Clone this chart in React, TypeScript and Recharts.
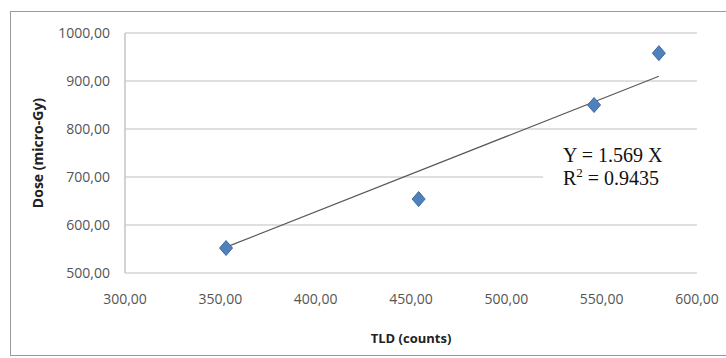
import { ScatterChart, Scatter, XAxis, YAxis, CartesianGrid } from 'recharts'

// TLD readings (counts) against measured dose (micro-Gy)
const tldCounts = [353, 454, 546, 580]
const doseMicroGy = [552, 654, 850, 958]

const xTicks = [300, 350, 400, 450, 500, 550, 600]
const yTicks = [500, 600, 700, 800, 900, 1000]

// fitted trendline through origin, Y = 1.569 X
const slope = 1.569
const fitRange = [353, 580]

const points = tldCounts.map((x, i) => ({ x, y: doseMicroGy[i] }))
const trend = fitRange.map(x => ({ x, y: slope * x }))

const fmt = (v: number) => v.toFixed(2).replace('.', ',')

const TICK = { fontSize: 14, fill: '#555555', fontFamily: 'Open Sans' }

function Diamond(props: any) {
  const { cx, cy } = props
  if (cx == null || cy == null) return null
  const w = 6.5
  const h = 7.5
  return (
    <polygon
      points={`${cx},${cy - h} ${cx + w},${cy} ${cx},${cy + h} ${cx - w},${cy}`}
      fill="#4F81BD"
      stroke="#41699C"
      strokeWidth={1}
    />
  )
}

export default function App() {
  return (
    <div style={{ position: 'absolute', left: 0, top: 0, width: 726, height: 358, background: '#fff' }}>
      <div
        style={{
          position: 'absolute',
          left: 10,
          top: 11,
          width: 716,
          height: 343,
          borderLeft: '1px solid #9a9a9a',
          borderTop: '1px solid #9a9a9a',
          borderBottom: '1px solid #9a9a9a',
        }}
      />
      <ScatterChart
        width={726}
        height={358}
        margin={{ top: 33, right: 29, bottom: 10, left: 10 }}
        style={{ position: 'absolute', left: 0, top: 0 }}
      >
        <CartesianGrid vertical={false} stroke="#d4d4d4" strokeWidth={1.5} />
        <XAxis
          type="number"
          dataKey="x"
          domain={[300, 600]}
          ticks={xTicks}
          tickFormatter={fmt}
          tick={TICK}
          tickLine={false}
          axisLine={false}
          tickSize={8}
          tickMargin={13}
          height={75}
          label={{
            value: 'TLD (counts)',
            position: 'insideBottom',
            offset: 5,
            style: { fontSize: 13, fontWeight: 700, fill: '#222', fontFamily: 'Open Sans' },
          }}
        />
        <YAxis
          type="number"
          dataKey="y"
          domain={[500, 1000]}
          ticks={yTicks}
          tickFormatter={fmt}
          tick={TICK}
          tickLine={false}
          axisLine={{ stroke: '#c4c4c4', strokeWidth: 1.5 }}
          tickSize={8}
          tickMargin={7}
          width={115}
          label={{
            value: 'Dose (micro-Gy)',
            angle: -90,
            position: 'insideLeft',
            offset: 28,
            style: { textAnchor: 'middle', fontSize: 14, fontWeight: 700, fill: '#222', fontFamily: 'Open Sans' },
          }}
        />
        <Scatter
          data={trend}
          line={{ stroke: '#5a5a5a', strokeWidth: 1.2 }}
          shape={() => <g />}
          isAnimationActive={false}
        />
        <Scatter data={points} shape={<Diamond />} isAnimationActive={false} />
      </ScatterChart>
      <div
        style={{
          position: 'absolute',
          left: 543,
          top: 138,
          width: 154,
          height: 60,
          background: '#fff',
          boxSizing: 'border-box',
          paddingTop: 6,
          paddingLeft: 20,
          fontFamily: '"Liberation Serif", "DejaVu Serif", serif',
          fontSize: 20,
          lineHeight: '23px',
          color: '#111',
          whiteSpace: 'nowrap',
        }}
      >
        <div>Y = 1.569 X</div>
        <div>
          R<sup style={{ fontSize: 13, lineHeight: 0, verticalAlign: 'super' }}>2</sup> = 0.9435
        </div>
      </div>
    </div>
  )
}
